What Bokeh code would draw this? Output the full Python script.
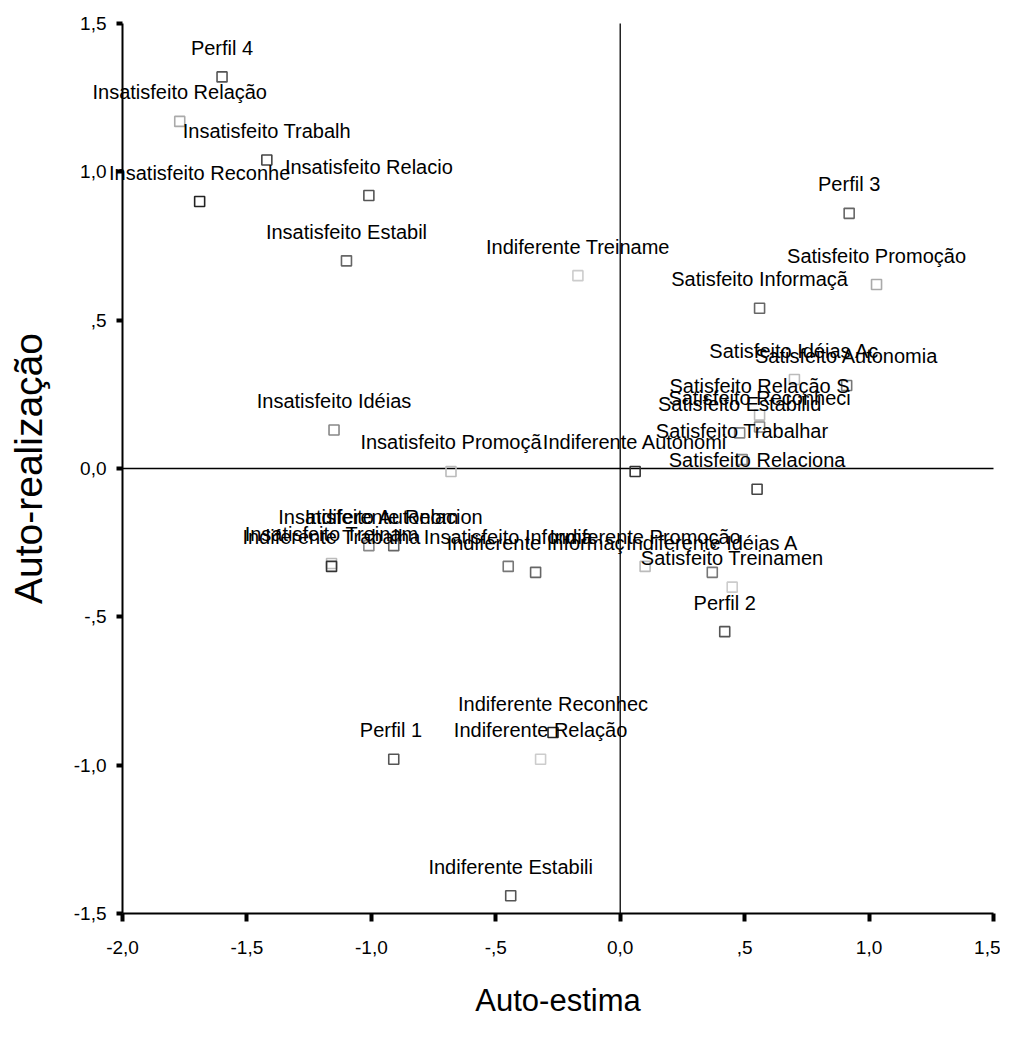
import math
from bokeh.plotting import figure
from bokeh.models import Range1d, FixedTicker, ColumnDataSource, LabelSet, Label
from bokeh.embed import file_html
from bokeh.resources import INLINE
from bokeh.core.properties import value

# ---- data ----
labels = [
    "Perfil 4", "Insatisfeito Relação", "Insatisfeito Trabalh", "Insatisfeito Reconhe",
    "Insatisfeito Relacio", "Insatisfeito Estabil", "Indiferente Treiname", "Perfil 3",
    "Satisfeito Promoção", "Satisfeito Informaçã", "Satisfeito Idéias Ac", "Satisfeito Autonomia",
    "Satisfeito Relação S", "Satisfeito Reconheci", "Satisfeito Estabilid", "Satisfeito Trabalhar",
    "Satisfeito Relaciona", "Insatisfeito Idéias", "Insatisfeito Promoçã", "Indiferente Autonomi",
    "Indiferente Relacion", "Insatisfeito Autonom", "Insatisfeito Treinam", "Indiferente Trabalha",
    "Insatisfeito Informa", "Indiferente Informaç", "Indiferente Promoção", "Indiferente Idéias A",
    "Satisfeito Treinamen", "Perfil 2", "Perfil  1", "Indiferente Relação",
    "Indiferente Reconhec", "Indiferente Estabili",
]
auto_estima = [
    -1.60, -1.77, -1.42, -1.69,
    -1.01, -1.10, -0.17, 0.92,
    1.03, 0.56, 0.70, 0.91,
    0.56, 0.56, 0.48, 0.49,
    0.55, -1.15, -0.68, 0.06,
    -0.91, -1.01, -1.16, -1.16,
    -0.45, -0.34, 0.10, 0.37,
    0.45, 0.42, -0.91, -0.32,
    -0.27, -0.44,
]
auto_realizacao = [
    1.32, 1.17, 1.04, 0.90,
    0.92, 0.70, 0.65, 0.86,
    0.62, 0.54, 0.30, 0.28,
    0.18, 0.14, 0.12, 0.03,
    -0.07, 0.13, -0.01, -0.01,
    -0.26, -0.26, -0.32, -0.33,
    -0.33, -0.35, -0.33, -0.35,
    -0.40, -0.55, -0.98, -0.98,
    -0.89, -1.44,
]

x_ticks = [-2.0, -1.5, -1.0, -0.5, 0.0, 0.5, 1.0, 1.5]
x_tick_labels = ["-2,0", "-1,5", "-1,0", "-,5", "0,0", ",5", "1,0", "1,5"]
y_ticks = [-1.5, -1.0, -0.5, 0.0, 0.5, 1.0, 1.5]
y_tick_labels = ["-1,5", "-1,0", "-,5", "0,0", ",5", "1,0", "1,5"]
x_title = "Auto-estima"
y_title = "Auto-realização"

# ---- styles / layout ----
marker_colors = [
    "#555555", "#aaaaaa", "#444444", "#222222",
    "#555555", "#666666", "#cccccc", "#666666",
    "#aaaaaa", "#666666", "#bbbbbb", "#777777",
    "#bbbbbb", "#888888", "#888888", "#888888",
    "#444444", "#888888", "#bbbbbb", "#333333",
    "#666666", "#888888", "#bbbbbb", "#333333",
    "#777777", "#666666", "#bbbbbb", "#777777",
    "#cccccc", "#555555", "#555555", "#cccccc",
    "#222222", "#555555",
]
FONT = "Liberation Sans"

W, H = 1000, 1050                      # canvas (== frame) size in px
AX_L, AX_R, AX_T, AX_B = 122, 993, 23, 913   # pixel box of the axes
x0, x1 = x_ticks[0], x_ticks[-1]
y0, y1 = y_ticks[0], y_ticks[-1]
sx = (AX_R - AX_L) / (x1 - x0)
sy = (AX_B - AX_T) / (y1 - y0)
xr = Range1d(x0 - AX_L / sx, x1 + (W - AX_R) / sx)
yr = Range1d(y0 - (H - AX_B) / sy, y1 + AX_T / sy)

src = ColumnDataSource(dict(x=auto_estima, y=auto_realizacao, label=labels, color=marker_colors))

p = figure(
    frame_width=W, frame_height=H, x_range=xr, y_range=yr,
    output_backend="svg", toolbar_location=None,
    min_border=0, background_fill_color="white", border_fill_color="white",
)
p.outline_line_color = None
p.grid.visible = False

# reference lines through the origin
p.segment(x0=[0, x0], y0=[y0, 0], x1=[0, x1], y1=[y1, 0], line_color="black", line_width=1.3)

p.scatter(x="x", y="y", source=src, marker="square", size=10, fill_color=None,
          line_color="color", line_width=1.6)
p.add_layout(LabelSet(x="x", y="y", text="label", source=src, text_font=value(FONT),
                      text_font_size="20px", text_align="center", text_baseline="middle",
                      y_offset=29, text_color="black"))

for ax in (p.xaxis[0], p.yaxis[0]):
    ax.axis_line_color = "black"
    ax.axis_line_width = 2
    ax.major_tick_line_color = "black"
    ax.major_tick_line_width = 4
    ax.major_tick_in = 0
    ax.minor_tick_line_color = None
    ax.major_label_text_color = "black"
    ax.major_label_text_font = FONT

p.xaxis[0].fixed_location = y0
p.xaxis[0].bounds = (x0, x1)
p.xaxis[0].ticker = FixedTicker(ticks=x_ticks)
p.xaxis[0].major_label_overrides = {t: l for t, l in zip(x_ticks, x_tick_labels)}
p.xaxis[0].major_tick_out = 8
p.xaxis[0].major_label_standoff = 19
p.xaxis[0].major_label_text_font_size = "19px"

p.yaxis[0].fixed_location = x0
p.yaxis[0].bounds = (y0, y1)
p.yaxis[0].ticker = FixedTicker(ticks=y_ticks)
p.yaxis[0].major_label_overrides = {t: l for t, l in zip(y_ticks, y_tick_labels)}
p.yaxis[0].major_tick_out = 6
p.yaxis[0].major_label_standoff = 10
p.yaxis[0].major_label_text_font_size = "19px"

# axis titles
p.add_layout(Label(x=(x0 + x1) / 2, y=y0, y_offset=-87, text=x_title, text_font=FONT,
                   text_font_size="31px", text_align="center", text_baseline="middle",
                   text_color="black"))
p.add_layout(Label(x=x0, y=(y0 + y1) / 2, x_offset=-94, text=y_title, text_font=FONT,
                   text_font_size="39px", text_align="center", text_baseline="middle",
                   angle=math.pi / 2, text_color="black"))

open("out.html", "w").write(file_html(p, INLINE))
